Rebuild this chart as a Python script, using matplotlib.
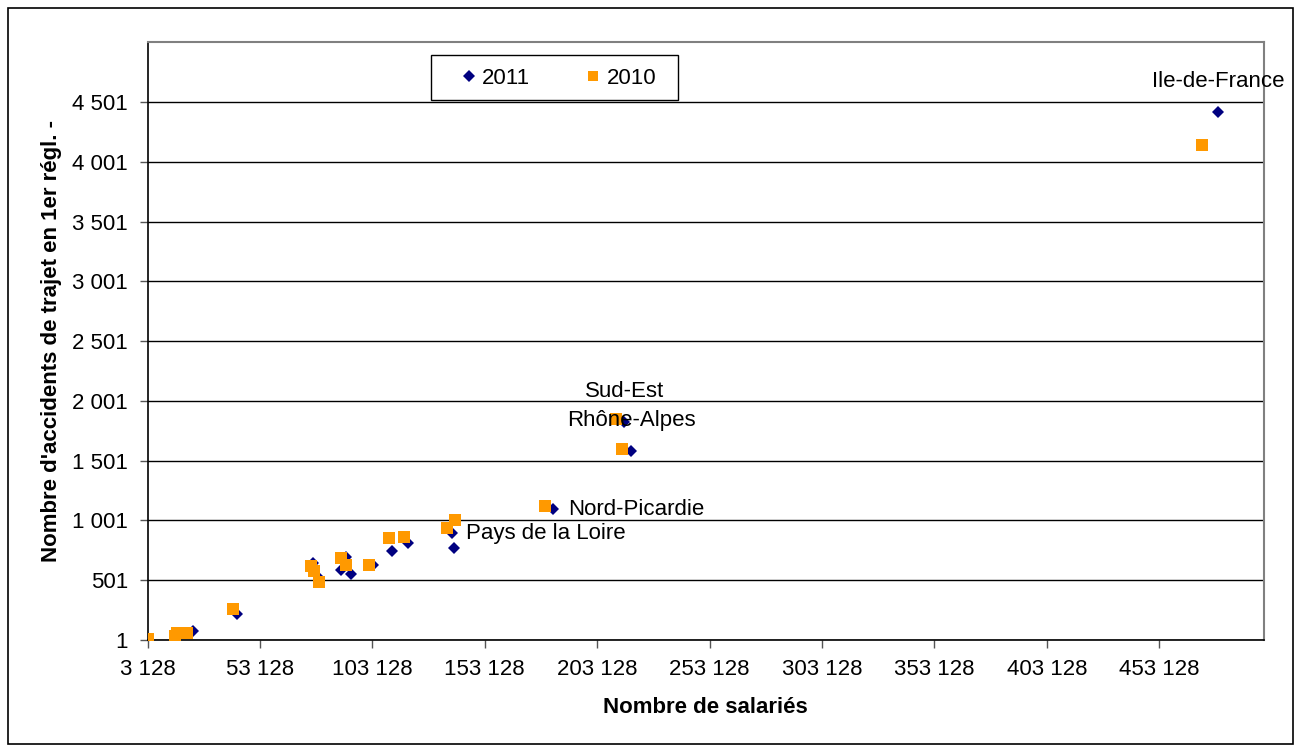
import matplotlib
matplotlib.use("Agg")
import matplotlib.pyplot as plt
from matplotlib.ticker import FuncFormatter
from matplotlib.patches import Rectangle

plt.rcParams['font.family'] = ['Liberation Sans', 'DejaVu Sans']

# Nombre de salariés / accidents de trajet, par région
salaries_2011 = [3128, 15800, 18900, 23400, 42900, 76700, 79400, 89200, 91400, 93600,
                 103400, 111900, 119000, 138600, 139400, 183500, 215100, 218200, 479200]
accidents_2011 = [5, 43, 59, 76, 218, 644, 519, 585, 694, 552,
                  627, 744, 811, 894, 769, 1094, 1821, 1579, 4417]

salaries_2010 = [3128, 15400, 16250, 20700, 41200, 75800, 77200, 79400, 89200, 91400,
                 101600, 110500, 117200, 136300, 139900, 179900, 211500, 214200, 472100]
accidents_2010 = [9, 34, 59, 59, 260, 619, 577, 485, 685, 627,
                  627, 852, 861, 936, 1003, 1120, 1854, 1595, 4141]

# labels attached to 2011 points: (index, text, dx, dy, ha)
labels = [(18, "Ile-de-France", 0, 22, "center"),
          (16, "Sud-Est", 0, 22, "center"),
          (17, "Rhône-Alpes", 0, 22, "center"),
          (15, "Nord-Picardie", 11, 0, "left"),
          (13, "Pays de la Loire", 10, 0, "left")]

x_ticks = [3128 + 50000 * k for k in range(10)]
y_ticks = [1 + 500 * k for k in range(10)]

fs = 16

fig = plt.figure(figsize=(13.01, 7.49), dpi=100)
fig.patches.append(Rectangle((8 / 1301, 5 / 749), 1285 / 1301, 736 / 749,
                             transform=fig.transFigure, fill=False,
                             edgecolor='black', linewidth=1.2))
# legend box
fig.patches.append(Rectangle((431 / 1301, 1 - 100 / 749), 247 / 1301, 45 / 749,
                             transform=fig.transFigure, facecolor='white',
                             edgecolor='black', linewidth=1, zorder=10))
ax = fig.add_axes([0.1134, 0.1455, 0.8582, 0.798])

ax.plot(salaries_2011, accidents_2011, linestyle='none', marker='D',
        markersize=6.2, color='#000080', markeredgewidth=0, label='2011', zorder=3)
ax.plot(salaries_2010, accidents_2010, linestyle='none', marker='s',
        markersize=8.2, color='#FF9900', markeredgewidth=0, label='2010', zorder=4)

for i, txt, dx, dy, ha in labels:
    ax.annotate(txt, (salaries_2011[i], accidents_2011[i]), xytext=(dx, dy),
                textcoords='offset points', ha=ha, va='center', fontsize=fs, zorder=5)

ax.set_xlim(3128, 499700)
ax.set_ylim(1, 5001)
ax.set_xticks(x_ticks)
ax.set_yticks(y_ticks)
fmt = FuncFormatter(lambda v, p: f"{int(round(v)):,}".replace(",", " "))
ax.xaxis.set_major_formatter(fmt)
ax.yaxis.set_major_formatter(fmt)
ax.tick_params(labelsize=fs, direction='out', length=6, width=1, color='#555555', pad=8)

ax.yaxis.grid(True, color='black', linewidth=1)
ax.set_axisbelow(True)
for side in ['left', 'bottom']:
    ax.spines[side].set_color('black')
    ax.spines[side].set_linewidth(1.2)
for side in ['top', 'right']:
    ax.spines[side].set_color('#808080')
    ax.spines[side].set_linewidth(1.5)

ax.set_xlabel("Nombre de salariés", fontsize=fs, fontweight='bold', labelpad=12)
ax.set_ylabel("Nombre d'accidents de trajet en 1er régl. -", fontsize=fs,
              fontweight='bold', labelpad=7)

leg = fig.legend(loc='center', bbox_to_anchor=(557 / 1301, 1 - 78 / 749), ncol=2,
                 fontsize=fs, frameon=False, borderpad=0, borderaxespad=0,
                 handletextpad=0.1, columnspacing=2.35, handlelength=1.0,
                 markerscale=0.95)
leg.set_zorder(11)

fig.savefig('out.png', dpi=100)
